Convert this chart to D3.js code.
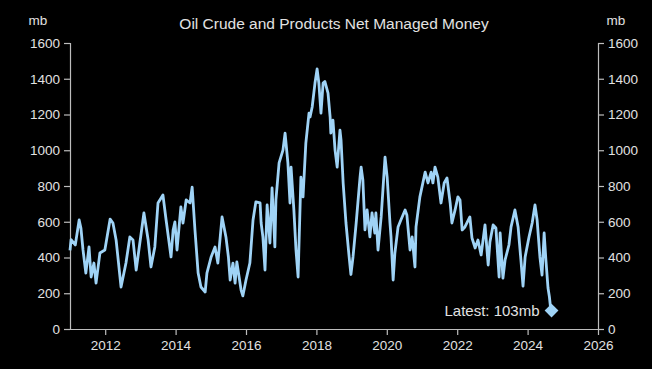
<!DOCTYPE html>
<html><head><meta charset="utf-8">
<script src="https://cdn.jsdelivr.net/npm/d3@7"></script>
<style>
html,body{margin:0;padding:0;background:#000;}
svg{display:block;}
text{font-family:"Liberation Sans",Arial,sans-serif;fill:#e2e2e2;}
</style></head><body>
<script>
const title = "Oil Crude and Products Net Managed Money";
const unitLabel = "mb";
const yTicks = [0,200,400,600,800,1000,1200,1400,1600];
const xTicks = [2012,2014,2016,2018,2020,2022,2024,2026];
const years = [2011.00,2011.03,2011.15,2011.26,2011.31,2011.37,2011.45,2011.54,2011.60,2011.68,2011.74,2011.85,2011.99,2012.14,2012.22,2012.31,2012.45,2012.59,2012.70,2012.79,2012.88,2012.93,2013.10,2013.22,2013.30,2013.41,2013.50,2013.64,2013.73,2013.87,2013.93,2013.98,2014.04,2014.15,2014.21,2014.30,2014.41,2014.47,2014.55,2014.64,2014.72,2014.84,2014.89,2015.01,2015.12,2015.20,2015.32,2015.43,2015.50,2015.55,2015.63,2015.69,2015.74,2015.86,2015.91,2016.00,2016.11,2016.20,2016.28,2016.40,2016.43,2016.48,2016.54,2016.60,2016.68,2016.74,2016.82,2016.85,2016.94,2017.05,2017.11,2017.19,2017.25,2017.28,2017.36,2017.42,2017.48,2017.56,2017.62,2017.70,2017.79,2017.82,2017.88,2017.96,2018.02,2018.07,2018.13,2018.19,2018.24,2018.33,2018.39,2018.41,2018.47,2018.53,2018.59,2018.67,2018.70,2018.76,2018.84,2018.93,2018.98,2019.04,2019.13,2019.24,2019.27,2019.32,2019.38,2019.44,2019.52,2019.58,2019.66,2019.69,2019.75,2019.84,2019.89,2019.95,2020.01,2020.09,2020.12,2020.18,2020.23,2020.32,2020.40,2020.52,2020.57,2020.66,2020.72,2020.80,2020.83,2020.94,2021.09,2021.17,2021.26,2021.31,2021.37,2021.45,2021.54,2021.63,2021.71,2021.80,2021.85,2021.94,2022.02,2022.08,2022.14,2022.22,2022.36,2022.42,2022.51,2022.59,2022.68,2022.79,2022.82,2022.88,2022.93,2023.02,2023.10,2023.19,2023.22,2023.30,2023.36,2023.47,2023.53,2023.64,2023.73,2023.81,2023.87,2023.93,2024.04,2024.13,2024.21,2024.27,2024.35,2024.41,2024.47,2024.52,2024.58,2024.62,2024.65,2024.68];
const values = [440,500,470,610,565,442,313,459,291,369,257,425,442,615,593,498,235,369,515,498,330,403,649,498,347,459,705,750,610,403,554,599,442,683,593,722,705,794,554,313,235,207,313,403,459,369,627,515,403,274,369,257,375,218,185,274,369,610,711,705,593,515,330,694,481,789,459,722,929,1001,1096,929,705,906,666,442,291,850,739,1040,1208,1186,1242,1376,1455,1376,1208,1376,1385,1320,1186,1096,1169,1001,906,1113,1057,817,593,403,305,403,593,850,906,834,554,666,515,649,537,649,442,627,778,962,850,593,515,274,425,571,610,666,638,442,515,347,571,739,878,817,878,817,906,850,705,817,845,705,593,666,739,722,554,571,627,509,453,498,414,582,509,358,487,582,565,291,537,285,386,470,571,666,571,386,240,403,515,593,694,610,403,302,537,386,229,179,123,103];
const latestLabel = "Latest: 103mb";

const W = 652, H = 369;
const m = {left:70, right:54, top:43, bottom:40};
const svg = d3.select("body").append("svg").attr("width",W).attr("height",H);
svg.append("rect").attr("width",W).attr("height",H).attr("fill","#000");

const x = d3.scaleLinear().domain([2011,2026]).range([m.left, W-m.right]);
const y = d3.scaleLinear().domain([0,1600]).range([H-m.bottom, m.top]);

const axisColor = "#bdbdbd";
function styleAxis(g){
  g.select(".domain").attr("stroke",axisColor).attr("stroke-width",1.2);
  g.selectAll(".tick line").attr("stroke",axisColor).attr("stroke-width",1.2);
  g.selectAll(".tick text").attr("fill","#e2e2e2").style("font-size","13.5px").style("font-family","Liberation Sans, Arial, sans-serif");
}
svg.append("g").attr("transform",`translate(${m.left},0)`)
  .call(d3.axisLeft(y).tickValues(yTicks).tickSize(6).tickSizeOuter(6).tickPadding(4).tickFormat(d3.format("d")))
  .call(styleAxis);
svg.append("g").attr("transform",`translate(${W-m.right},0)`)
  .call(d3.axisRight(y).tickValues(yTicks).tickSize(6).tickSizeOuter(6).tickPadding(4).tickFormat(d3.format("d")))
  .call(styleAxis);
svg.append("g").attr("transform",`translate(0,${H-m.bottom})`)
  .call(d3.axisBottom(x).tickValues(xTicks).tickSize(6).tickSizeOuter(0).tickPadding(5).tickFormat(d3.format("d")))
  .call(styleAxis);

const n = Math.min(years.length, values.length);
const data = d3.range(n).map(i=>({t:years[i], v:values[i]}));
const line = d3.line().x(d=>x(d.t)).y(d=>y(d.v));
svg.append("path").datum(data).attr("d",line)
  .attr("fill","none").attr("stroke","#9fd3f6").attr("stroke-width",2.8).attr("stroke-linejoin","round");

const last = data[data.length-1];
svg.append("path").attr("d",d3.symbol(d3.symbolSquare,95)())
  .attr("transform",`translate(${x(last.t)},${y(last.v)}) rotate(45)`).attr("fill","#9fd3f6");
svg.append("text").attr("x",x(last.t)-12).attr("y",y(last.v)+5).attr("text-anchor","end")
  .style("font-size","15px").text(latestLabel);

svg.append("text").attr("x",(m.left+W-m.right)/2).attr("y",29).attr("text-anchor","middle")
  .style("font-size","15.5px").text(title);
svg.append("text").attr("x",38).attr("y",25).attr("text-anchor","middle").style("font-size","13.5px").text(unitLabel);
svg.append("text").attr("x",616).attr("y",25).attr("text-anchor","middle").style("font-size","13.5px").text(unitLabel);
</script></body></html>
